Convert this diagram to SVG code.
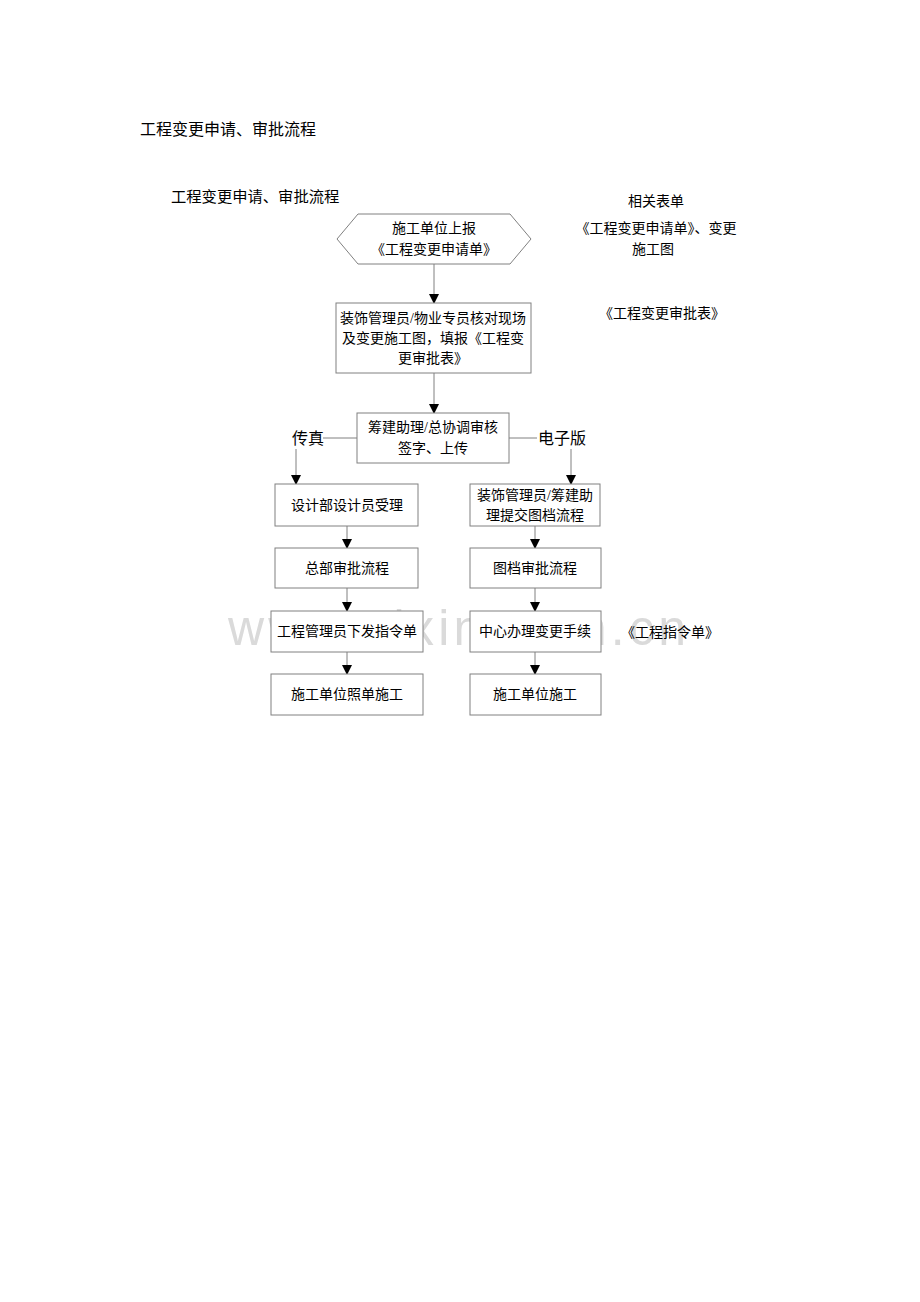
<svg xmlns="http://www.w3.org/2000/svg" width="920" height="1302" viewBox="0 0 920 1302">
<defs>
<style>
text{font-family:"Liberation Serif","Noto Sans CJK SC",serif;fill:#000}
.t{font-size:14px;text-anchor:middle}
.h{font-size:16px}
.lb{font-size:16px}
.box{fill:#fff;stroke:#808080;stroke-width:1}
.ln{stroke:#808080;stroke-width:1;fill:none}
.wm{font-family:"Liberation Sans",Arial,sans-serif;font-size:50px;fill:#dadada}
</style>
<marker id="ah" markerWidth="10" markerHeight="10" refX="9" refY="5" orient="auto" markerUnits="userSpaceOnUse">
<path d="M0,0 L10,5 L0,10 Z" fill="#000"/>
</marker>
</defs>
<rect width="920" height="1302" fill="#fff"/>
<text class="wm" x="228" y="645" textLength="458" lengthAdjust="spacing">www.zixin.com.cn</text>
<text class="h" x="140" y="135">工程变更申请、审批流程</text>
<text class="h" x="171" y="202" style="font-size:15.3px">工程变更申请、审批流程</text>
<g id="forms">
<text class="t" x="656" y="206">相关表单</text>
<text class="t" x="656" y="233">《工程变更申请单》、变更</text>
<text class="t" x="653" y="254">施工图</text>
<text class="t" x="662" y="318">《工程变更审批表》</text>
<text class="t" x="670" y="637">《工程指令单》</text>
</g>
<g id="connectors">
<line class="ln" x1="434" y1="264" x2="434" y2="303" marker-end="url(#ah)"/>
<line class="ln" x1="434" y1="373" x2="434" y2="413" marker-end="url(#ah)"/>
<line class="ln" x1="357" y1="438" x2="323" y2="438"/>
<line class="ln" x1="296" y1="449" x2="296" y2="484" marker-end="url(#ah)"/>
<line class="ln" x1="509" y1="438" x2="537" y2="438"/>
<line class="ln" x1="571" y1="449" x2="571" y2="484" marker-end="url(#ah)"/>
<line class="ln" x1="347" y1="526" x2="347" y2="548" marker-end="url(#ah)"/>
<line class="ln" x1="347" y1="588" x2="347" y2="611" marker-end="url(#ah)"/>
<line class="ln" x1="347" y1="652" x2="347" y2="674" marker-end="url(#ah)"/>
<line class="ln" x1="535" y1="526" x2="535" y2="548" marker-end="url(#ah)"/>
<line class="ln" x1="535" y1="588" x2="535" y2="611" marker-end="url(#ah)"/>
<line class="ln" x1="535" y1="652" x2="535" y2="674" marker-end="url(#ah)"/>
<text class="lb" x="292" y="444">传真</text>
<text class="lb" x="538" y="444">电子版</text>
</g>
<g id="n1">
<polygon class="box" points="337,239 358,214 510,214 531,239 510,264 358,264"/>
<text class="t" x="434" y="233">施工单位上报</text>
<text class="t" x="434" y="254">《工程变更申请单》</text>
</g>
<g id="n2">
<rect class="box" x="336" y="303" width="195" height="70"/>
<text class="t" x="433" y="323">装饰管理员/物业专员核对现场</text>
<text class="t" x="433" y="343">及变更施工图，填报《工程变</text>
<text class="t" x="433" y="363">更审批表》</text>
</g>
<g id="n3">
<rect class="box" x="357" y="413" width="152" height="50"/>
<text class="t" x="433" y="432">筹建助理/总协调审核</text>
<text class="t" x="433" y="453">签字、上传</text>
</g>
<g id="n4">
<rect class="box" x="275" y="484" width="143" height="42"/>
<text class="t" x="347" y="510">设计部设计员受理</text>
</g>
<g id="n5">
<rect class="box" x="470" y="484" width="130" height="42"/>
<text class="t" x="535" y="500">装饰管理员/筹建助</text>
<text class="t" x="535" y="520">理提交图档流程</text>
</g>
<g id="n6">
<rect class="box" x="275" y="548" width="143" height="40"/>
<text class="t" x="347" y="573">总部审批流程</text>
</g>
<g id="n7">
<rect class="box" x="470" y="548" width="131" height="40"/>
<text class="t" x="535" y="573">图档审批流程</text>
</g>
<g id="n8">
<rect class="box" x="271" y="611" width="152" height="41"/>
<text class="t" x="347" y="636">工程管理员下发指令单</text>
</g>
<g id="n9">
<rect class="box" x="470" y="611" width="131" height="41"/>
<text class="t" x="535" y="636">中心办理变更手续</text>
</g>
<g id="n10">
<rect class="box" x="271" y="674" width="152" height="41"/>
<text class="t" x="347" y="699">施工单位照单施工</text>
</g>
<g id="n11">
<rect class="box" x="470" y="674" width="131" height="41"/>
<text class="t" x="535" y="699">施工单位施工</text>
</g>
</svg>
